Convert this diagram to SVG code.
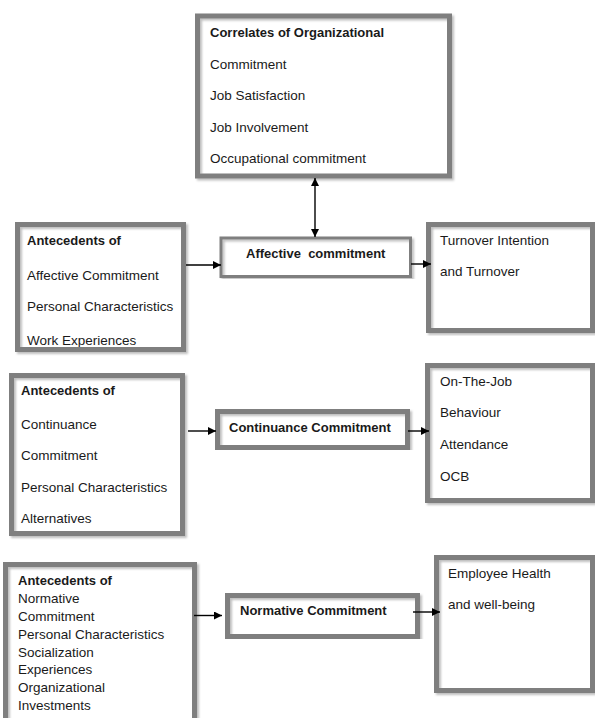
<svg xmlns="http://www.w3.org/2000/svg" width="595" height="718" viewBox="0 0 595 718">
<style>
text{font-family:"Liberation Sans",Arial,sans-serif;font-size:13.5px;fill:#1a1a1a}
.b{font-weight:bold;font-size:13px}
.pre{white-space:pre}
.bd{fill:none;stroke:#7f7f7f;stroke-width:5;filter:url(#sh)}
.thin{stroke-width:3}
.c{stroke:#000;stroke-width:1.4;fill:none}
</style>
<defs>
<filter id="sh" x="-5%" y="-5%" width="110%" height="110%">
<feDropShadow dx="2" dy="2" stdDeviation="1" flood-color="#000" flood-opacity="0.25"/>
</filter>
<marker id="ah" viewBox="0 0 10 10" refX="10" refY="5" markerWidth="8" markerHeight="8" markerUnits="userSpaceOnUse" orient="auto-start-reverse">
<path d="M0,0 L10,5 L0,10 z" fill="#000"/>
</marker>
</defs>
<rect width="595" height="718" fill="#fff"/>

<g id="correlates">
<text x="210" y="37" class="b">Correlates of Organizational</text>
<text x="210" y="68.5">Commitment</text>
<text x="210" y="100">Job Satisfaction</text>
<text x="210" y="131.5">Job Involvement</text>
<text x="210" y="163">Occupational commitment</text>
<rect class="bd" x="197.5" y="16" width="252" height="160"/>
</g>

<g id="ante-affective">
<text x="27" y="245" class="b">Antecedents of</text>
<text x="27" y="280">Affective Commitment</text>
<text x="27" y="311">Personal Characteristics</text>
<text x="27" y="345">Work Experiences</text>
<rect class="bd" x="17.5" y="224.5" width="166" height="125"/>
</g>

<g id="affective">
<text x="246" y="258" class="b pre" xml:space="preserve">Affective  commitment</text>
<rect class="bd thin" x="221" y="238" width="189.5" height="38.5"/>
</g>

<g id="turnover">
<text x="440" y="245">Turnover Intention</text>
<text x="440" y="276">and Turnover</text>
<rect class="bd" x="428.5" y="224.5" width="164" height="106"/>
</g>

<g id="ante-continuance">
<text x="21" y="395" class="b">Antecedents of</text>
<text x="21" y="429">Continuance</text>
<text x="21" y="460">Commitment</text>
<text x="21" y="492">Personal Characteristics</text>
<text x="21" y="523">Alternatives</text>
<rect class="bd" x="11.5" y="375.5" width="171" height="158"/>
</g>

<g id="continuance">
<text x="229" y="432" class="b">Continuance Commitment</text>
<rect class="bd" x="217.5" y="411.5" width="190" height="36"/>
</g>

<g id="behaviour">
<text x="440" y="386">On-The-Job</text>
<text x="440" y="417">Behaviour</text>
<text x="440" y="449">Attendance</text>
<text x="440" y="481">OCB</text>
<rect class="bd" x="427.5" y="365.5" width="165" height="135"/>
</g>

<g id="ante-normative">
<text x="18" y="585" class="b">Antecedents of</text>
<text x="18" y="603">Normative</text>
<text x="18" y="621">Commitment</text>
<text x="18" y="639">Personal Characteristics</text>
<text x="18" y="657">Socialization</text>
<text x="18" y="674">Experiences</text>
<text x="18" y="692">Organizational</text>
<text x="18" y="710">Investments</text>
<rect class="bd" x="5.5" y="564.5" width="189" height="170"/>
</g>

<g id="normative">
<text x="240" y="615" class="b">Normative Commitment</text>
<rect class="bd" x="227.5" y="595.5" width="190" height="41"/>
</g>

<g id="health">
<text x="448" y="578">Employee Health</text>
<text x="448" y="609">and well-being</text>
<rect class="bd" x="436.5" y="557.5" width="156" height="133"/>
</g>

<g id="connectors">
<line class="c" x1="315" y1="178" x2="315" y2="237" marker-start="url(#ah)" marker-end="url(#ah)"/>
<line class="c" x1="186" y1="265" x2="221" y2="265" marker-end="url(#ah)"/>
<line class="c" x1="411" y1="264" x2="431" y2="264" marker-end="url(#ah)"/>
<line class="c" x1="188" y1="431" x2="216" y2="431" marker-end="url(#ah)"/>
<line class="c" x1="408" y1="431" x2="429" y2="431" marker-end="url(#ah)"/>
<line class="c" x1="194" y1="615.5" x2="222" y2="615.5" marker-end="url(#ah)"/>
<line class="c" x1="413" y1="612" x2="440" y2="612" marker-end="url(#ah)"/>
</g>
</svg>
